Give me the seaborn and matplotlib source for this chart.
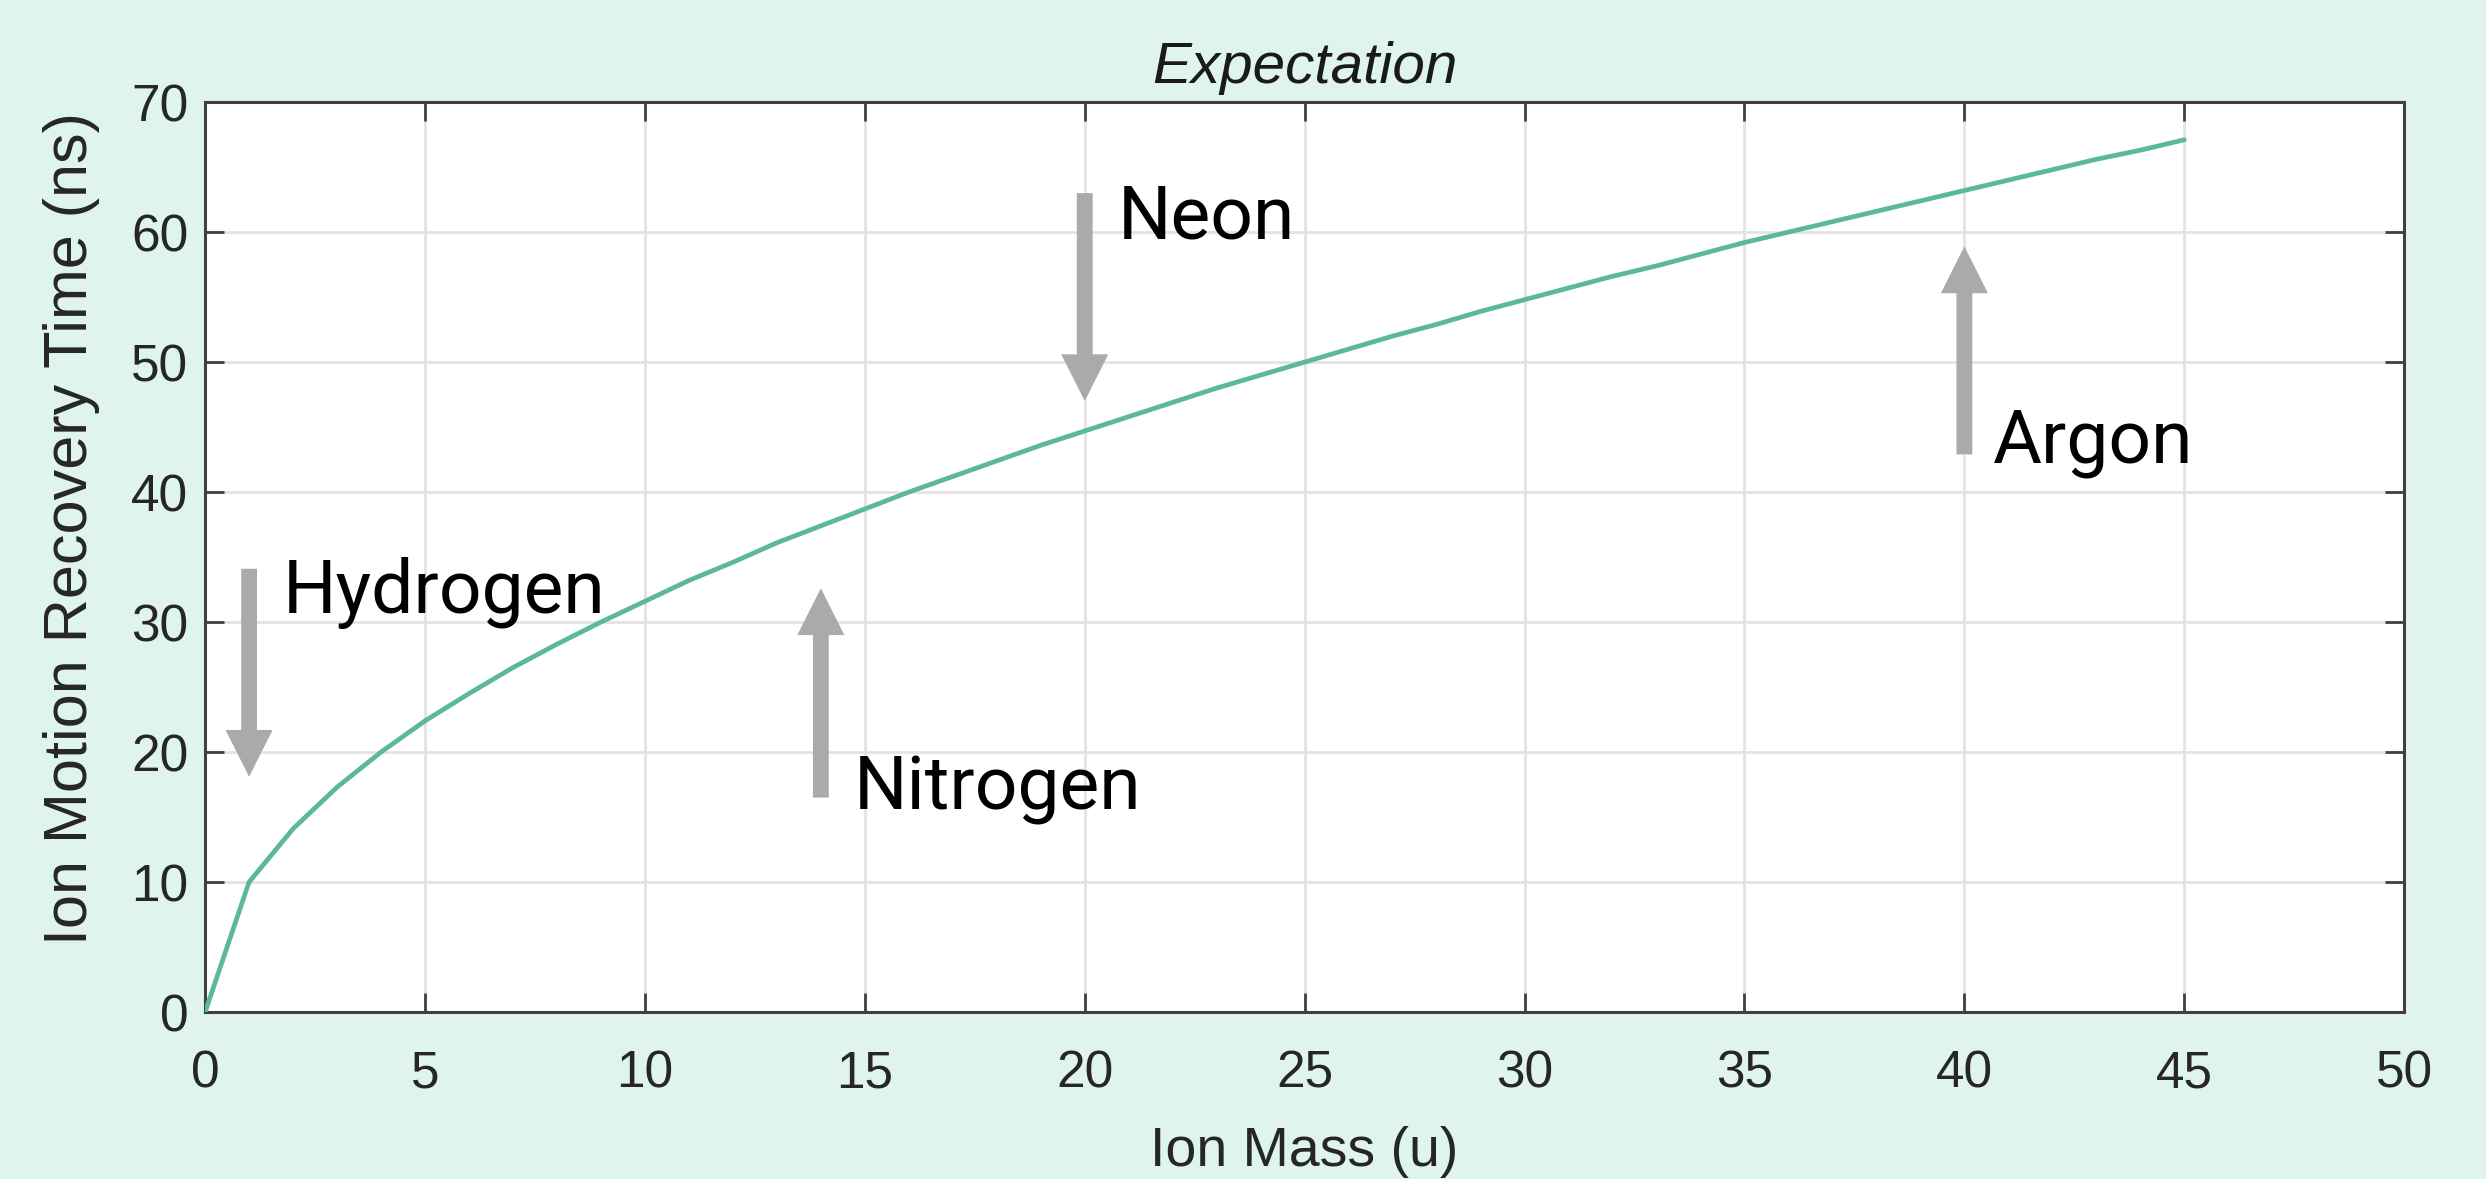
import matplotlib
matplotlib.use("Agg")
import matplotlib.pyplot as plt
import seaborn as sns
import pandas as pd

# ---- data ----
ion_mass = list(range(0, 46))
recovery_time = [0, 10, 14.1, 17.3, 20, 22.4, 24.5, 26.5, 28.3, 30, 31.6,
                 33.2, 34.6, 36.1, 37.4, 38.7, 40, 41.2, 42.4, 43.6, 44.7,
                 45.8, 46.9, 48, 49, 50, 51, 52, 52.9, 53.9, 54.8, 55.7,
                 56.6, 57.4, 58.3, 59.2, 60, 60.8, 61.6, 62.4, 63.2, 64,
                 64.8, 65.6, 66.3, 67.1]
x_ticks = [0, 5, 10, 15, 20, 25, 30, 35, 40, 45, 50]
y_ticks = [0, 10, 20, 30, 40, 50, 60, 70]

# annotations
gas_names = ["Hydrogen", "Nitrogen", "Neon", "Argon"]
arrow_x = [1, 14, 20, 40]
arrow_from = [34.1, 16.5, 63.0, 42.9]
arrow_to = [18.1, 32.6, 47.0, 58.9]
label_x = [1.77, 14.75, 20.75, 40.65]
label_y = [30.7, 15.6, 59.5, 42.3]

BG = "#E0F4EF"
LINE = "#5BB89C"
AXC = "#404040"
TXT = "#262626"

sns.set_style("white")
plt.rcParams["font.family"] = ["Liberation Sans", "DejaVu Sans"]

fig = plt.figure(figsize=(24.86, 11.79), dpi=100, facecolor=BG)
ax = fig.add_axes([0.0825, 0.1416, 0.8846, 0.7718])
ax.set_facecolor("white")

df = pd.DataFrame({"mass": ion_mass, "time": recovery_time})
sns.lineplot(data=df, x="mass", y="time", ax=ax, color=LINE, linewidth=3.4, zorder=3)

ax.set_xlim(0, 50)
ax.set_ylim(0, 70)
ax.set_xticks(x_ticks)
ax.set_yticks(y_ticks)
ax.grid(True, color="#E3E3E3", linewidth=2.0, zorder=0)
ax.set_axisbelow(True)

for s in ax.spines.values():
    s.set_visible(True)
    s.set_color(AXC)
    s.set_linewidth(2.2)

ax.tick_params(axis="both", direction="in", length=14, width=2.0, color=AXC,
               labelsize=37, labelcolor=TXT,
               top=True, right=True, bottom=True, left=True)
ax.tick_params(axis="x", pad=27)
ax.tick_params(axis="y", pad=12)

ax.set_xlabel("Ion Mass (u)", fontsize=40, color=TXT, labelpad=20)
ax.set_ylabel("Ion Motion Recovery Time (ns)", fontsize=44, color=TXT)
ax.yaxis.set_label_coords(-0.048, 0.531)
ax.set_title("Expectation", fontsize=42, style="italic", color="#1a1a1a", pad=14)

for name, ax_x, y0, y1, tx, ty in zip(gas_names, arrow_x, arrow_from, arrow_to, label_x, label_y):
    ax.arrow(ax_x, y0, 0, y1 - y0, width=0.36, head_width=1.07, head_length=3.6,
             length_includes_head=True, color="#AAAAAA", ec="none", zorder=4)
    ax.text(tx, ty, name, fontsize=54, family=["Roboto", "DejaVu Sans"],
            fontweight="normal", color="black", va="baseline", ha="left", zorder=5)

fig.savefig("out.png", dpi=100, facecolor=BG)
